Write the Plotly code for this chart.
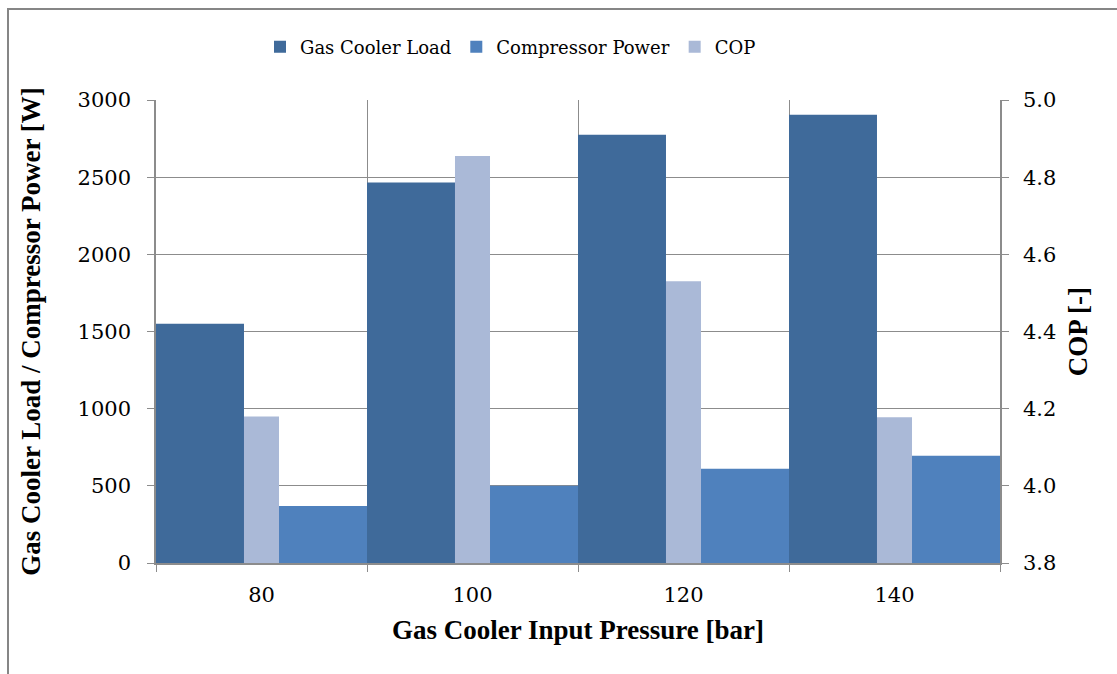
import plotly.graph_objects as go

categories = ["80", "100", "120", "140"]
gas_cooler_load = [1550, 2465, 2775, 2905]
compressor_power = [370, 500, 610, 695]
cop = [4.18, 4.855, 4.53, 4.178]

C_GCL = "#3F6A9A"
C_CP = "#4F81BD"
C_COP = "#AAB9D7"
GRID = "#8C8C8C"
BOLD_FONT = "Liberation Serif"
REG_FONT = "DejaVu Serif"

def f(size, fam=REG_FONT):
    return dict(family=fam, size=size, color="black")

fig = go.Figure()
fig.add_trace(go.Bar(name="Gas Cooler Load", x=categories, y=gas_cooler_load,
                     marker=dict(color=C_GCL, line=dict(width=0)),
                     offset=-0.5, width=0.417))
fig.add_trace(go.Bar(name="Compressor Power", x=categories, y=compressor_power,
                     marker=dict(color=C_CP, line=dict(width=0)),
                     offset=0.083, width=0.417))
fig.add_trace(go.Bar(name="COP", x=categories, y=cop, yaxis="y2",
                     marker=dict(color=C_COP, line=dict(width=0)),
                     offset=-0.083, width=0.166))

W, H = 1117, 674
L, R, T, B = 156, 117, 100, 111
pw, ph = W - L - R, H - T - B

def px(x):
    return (x - L) / pw

def py(y):
    return (H - B - y) / ph

fig.update_layout(
    width=W, height=H,
    margin=dict(l=L, r=R, t=T, b=B),
    paper_bgcolor="white", plot_bgcolor="white",
    barmode="overlay",
    font=f(21),
    showlegend=True,
    legend=dict(orientation="h", x=px(260), xanchor="left", y=py(47), yanchor="middle",
                font=f(18), bgcolor="rgba(0,0,0,0)", traceorder="normal"),
    xaxis=dict(type="category", categoryorder="array", categoryarray=categories,
               range=[-0.5, 3.5], tickson="boundaries", ticks="outside", ticklen=7,
               tickcolor=GRID, showgrid=True, gridcolor=GRID, gridwidth=1,
               showline=True, linecolor=GRID, linewidth=1.5,
               tickfont=f(21), ticklabelstandoff=12,
               title=dict(text="<b>Gas Cooler Input Pressure [bar]</b>",
                          font=f(27, BOLD_FONT), standoff=14)),
    yaxis=dict(range=[0, 3000], dtick=500, tick0=0, ticks="outside", ticklen=7,
               tickcolor=GRID, showgrid=True, gridcolor=GRID, gridwidth=1,
               showline=True, linecolor=GRID, linewidth=1.5, zeroline=False,
               tickfont=f(21), ticklabelstandoff=12,
               title=dict(text="<b>Gas Cooler Load / Compressor Power [W]</b>",
                          font=f(27, BOLD_FONT), standoff=29)),
    yaxis2=dict(range=[3.8, 5.0], dtick=0.2, tick0=3.8, tickformat=".1f",
                overlaying="y", side="right", ticks="outside", ticklen=7,
                tickcolor=GRID, showgrid=False, showline=True, linecolor=GRID,
                linewidth=1.5, zeroline=False, tickfont=f(21),
                ticklabelstandoff=10,
                title=dict(text="<b>COP [-]</b>", font=f(27, BOLD_FONT), standoff=13)),
    shapes=[dict(type="rect", xref="paper", yref="paper",
                 x0=px(8), x1=px(1140), y0=py(700), y1=py(9),
                 line=dict(color="#868686", width=2), fillcolor="rgba(0,0,0,0)",
                 layer="below")],
)

fig.write_html("out.html")
